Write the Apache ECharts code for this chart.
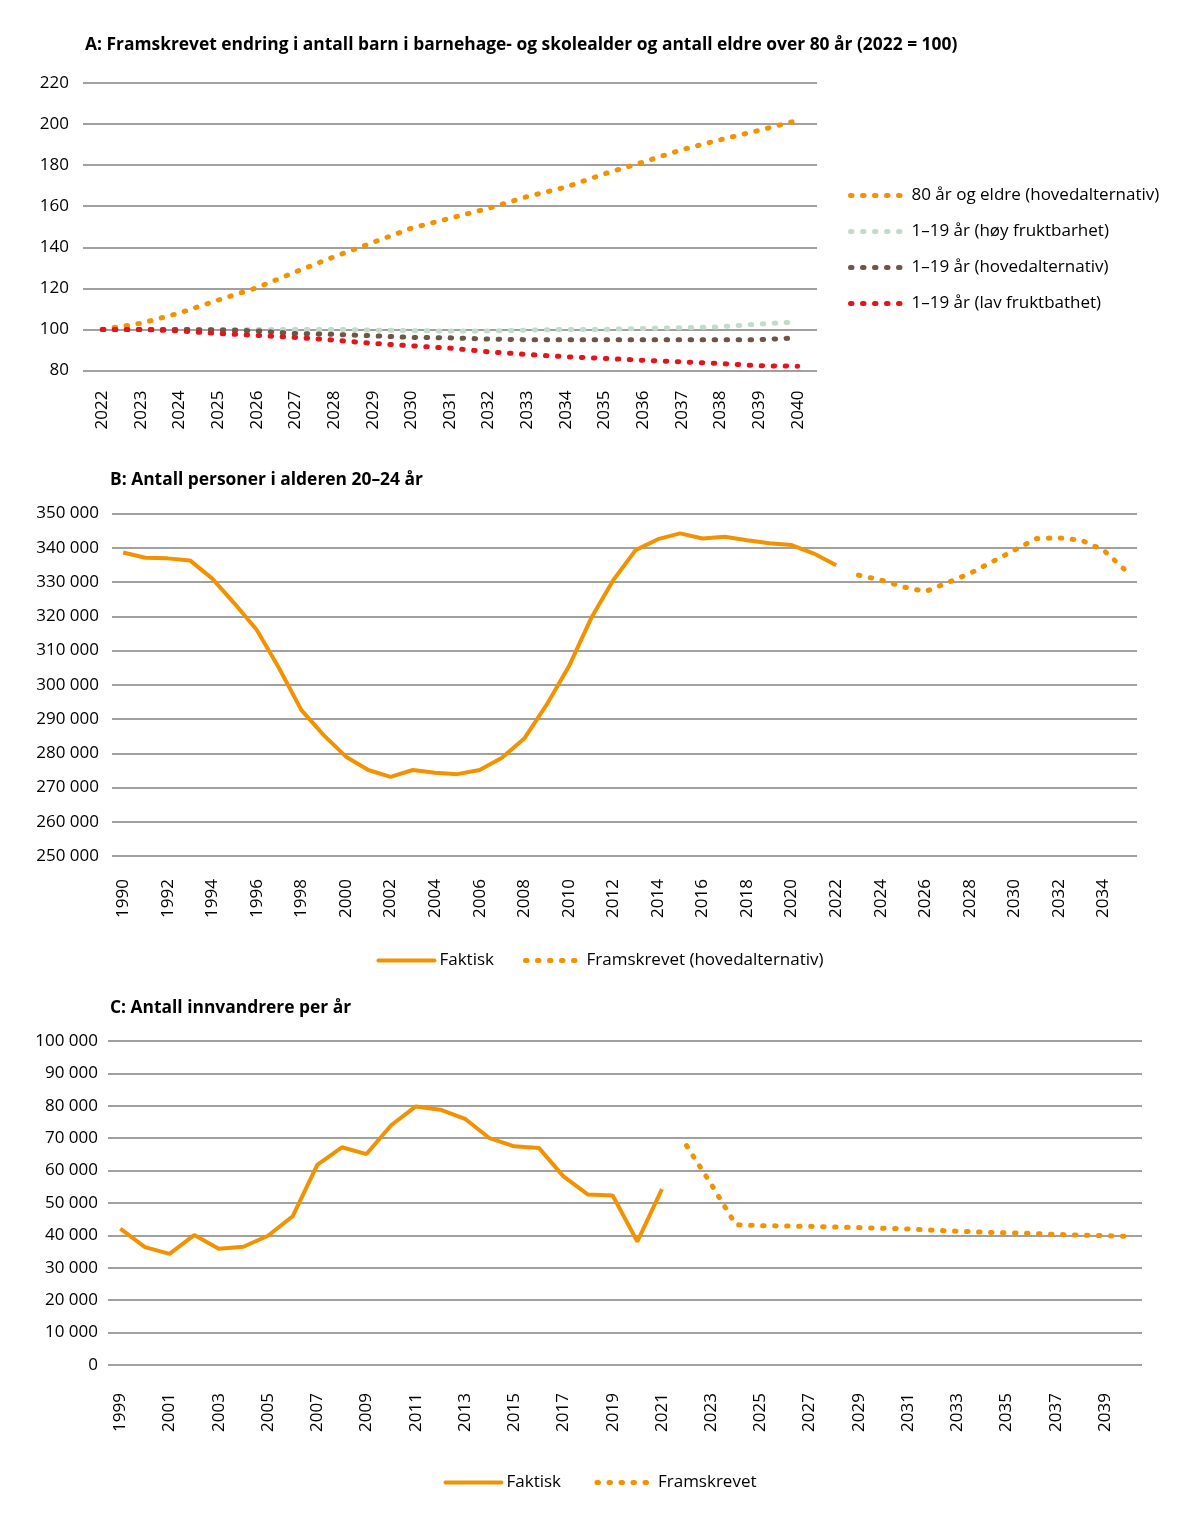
<!DOCTYPE html>
<html>
<head>
<meta charset="utf-8">
<script src="https://cdn.jsdelivr.net/npm/echarts@6/dist/echarts.min.js"></script>
<style>
  html, body { margin: 0; padding: 0; background: #fff; }
  #main { width: 1200px; height: 1526px; }
</style>
</head>
<body>
<div id="main"></div>
<script>
// A: index 2022 = 100
var yearsA = ['2022', '2023', '2024', '2025', '2026', '2027', '2028', '2029', '2030', '2031',
    '2032', '2033', '2034', '2035', '2036', '2037', '2038', '2039', '2040'];
var eldre80 = [100, 103, 108, 114.3, 120.3, 128, 135.4, 142.3, 149.3, 154.1,
    159, 164.7, 169.3, 175.8, 181.5, 187.5, 192.4, 196.9, 201.8];
var barnHoy = [100, 100, 100, 100, 100, 100, 100, 99.7, 99.4, 99.2,
    99.2, 99.7, 100, 100, 100.5, 100.8, 101.3, 102.6, 103.7];
var barnHoved = [100, 100, 100, 99.8, 99.3, 98, 97.6, 96.9, 96.1, 95.9,
    95.3, 95, 95, 95, 95, 95, 95, 95, 95.9];
var barnLav = [100, 100, 99.3, 98, 97.1, 96.1, 94.8, 93.2, 92, 90.9,
    89.1, 87.8, 86.7, 85.9, 85, 84.2, 83.4, 82.3, 82.1];

// B: personer 20-24 aar
var yearsB = ['1990', '1991', '1992', '1993', '1994', '1995', '1996', '1997', '1998', '1999',
    '2000', '2001', '2002', '2003', '2004', '2005', '2006', '2007', '2008', '2009',
    '2010', '2011', '2012', '2013', '2014', '2015', '2016', '2017', '2018', '2019',
    '2020', '2021', '2022', '2023', '2024', '2025', '2026', '2027', '2028', '2029',
    '2030', '2031', '2032', '2033', '2034', '2035'];
var faktiskB = [338600, 337100, 336900, 336300, 331000, 323700, 316000, 304800, 292600, 285300,
    279000, 275100, 273100, 275100, 274300, 273900, 275100, 278700, 284300, 294100,
    305300, 319400, 330600, 339300, 342500, 344200, 342700, 343200, 342200, 341300,
    340800, 338300, 334900];
var framB = [332000, 330600, 328600, 327200, 329800, 332500, 335900, 339300, 342700, 342900,
    342200, 339300, 333300];

// C: innvandrere per aar
var yearsC = ['1999', '2000', '2001', '2002', '2003', '2004', '2005', '2006', '2007', '2008',
    '2009', '2010', '2011', '2012', '2013', '2014', '2015', '2016', '2017', '2018',
    '2019', '2020', '2021', '2022', '2023', '2024', '2025', '2026', '2027', '2028',
    '2029', '2030', '2031', '2032', '2033', '2034', '2035', '2036', '2037', '2038',
    '2039', '2040'];
var faktiskC = [42100, 36400, 34300, 40100, 35900, 36500, 39900, 45900, 61800, 67200,
    65100, 74000, 79800, 78800, 76000, 70000, 67500, 67000, 58200, 52600,
    52300, 38100, 54300];
var framC = [67700, 55800, 43300, 43000, 42900, 42800, 42600, 42400, 42200, 42000,
    41600, 41300, 41000, 40800, 40600, 40300, 40100, 39900, 39700];

var orange = '#f39200';
var dots = [1.5, 10.5];
var dotLine = {width: 5, type: dots, cap: 'round'};
var solidLine = {width: 4, type: 'solid', cap: 'round'};

function pad(n) {
    var a = [];
    for (var i = 0; i < n; i++) a.push(null);
    return a;
}
function thousands(v) {
    return String(v).replace(/\B(?=(\d{3})+(?!\d))/g, ' ');
}
// legend entry: line only, no symbol
function legendItem(name, ls) {
    return {name: name, itemStyle: {opacity: 0}, lineStyle: ls};
}
function xAxisFor(idx, data, every, margin) {
    return {
        type: 'category', gridIndex: idx, data: data, boundaryGap: true,
        axisLine: {show: false}, axisTick: {show: false},
        axisLabel: {rotate: 90, interval: every, margin: margin, color: '#000', fontSize: 17}
    };
}
function yAxisFor(idx, min, max, step, margin, drop) {
    return {
        type: 'value', gridIndex: idx, min: min, max: max, interval: step,
        axisLine: {show: false}, axisTick: {show: false},
        axisLabel: {color: '#000', fontSize: 17, margin: margin, formatter: thousands,
            padding: [drop, 0, 0, 0]},
        splitLine: {lineStyle: {color: '#808080', width: 1.5}}
    };
}
function dotted(name, color, x, y, data) {
    return {
        name: name, type: 'line', xAxisIndex: x, yAxisIndex: y, data: data,
        symbol: 'none', silent: true, connectNulls: false,
        lineStyle: {color: color, width: dotLine.width, type: dots, cap: 'round'},
        itemStyle: {color: color}
    };
}
function solid(name, x, y, data) {
    return {
        name: name, type: 'line', xAxisIndex: x, yAxisIndex: y, data: data,
        symbol: 'none', silent: true, connectNulls: false,
        lineStyle: {color: orange, width: 4},
        itemStyle: {color: orange}
    };
}

var myChart = echarts.init(document.getElementById('main'));
var option = {
    animation: false,
    textStyle: {fontFamily: 'Open Sans'},
    title: [
        {text: 'A: Framskrevet endring i antall barn i barnehage- og skolealder og antall eldre over 80 år (2022 = 100)',
            left: 85, top: 37, padding: 0, textStyle: {fontSize: 17.4, fontWeight: 'bold', color: '#000'}},
        {text: 'B: Antall personer i alderen 20–24 år',
            left: 110, top: 472, padding: 0, textStyle: {fontSize: 17.4, fontWeight: 'bold', color: '#000'}},
        {text: 'C: Antall innvandrere per år',
            left: 110, top: 1000, padding: 0, textStyle: {fontSize: 17.4, fontWeight: 'bold', color: '#000'}}
    ],
    legend: [
        {
            orient: 'vertical', left: 843, top: 182, itemWidth: 56, itemHeight: 14, itemGap: 19,
            textStyle: {fontSize: 17, color: '#000'},
            data: [legendItem('80 år og eldre (hovedalternativ)', dotLine),
                legendItem('1–19 år (høy fruktbarhet)', dotLine),
                legendItem('1–19 år (hovedalternativ)', dotLine),
                legendItem('1–19 år (lav fruktbathet)', dotLine)]
        },
        {
            left: 'center', top: 947, itemWidth: 56, itemHeight: 14, itemGap: 29,
            textStyle: {fontSize: 17, color: '#000'},
            data: [legendItem('Faktisk', solidLine), legendItem('Framskrevet (hovedalternativ)', dotLine)]
        },
        {
            left: 'center', top: 1469, itemWidth: 56, itemHeight: 14, itemGap: 29,
            textStyle: {fontSize: 17, color: '#000'},
            data: [legendItem('Faktisk ', solidLine), legendItem('Framskrevet', dotLine)]
        }
    ],
    grid: [
        {left: 83, top: 83, width: 734, height: 287.5},
        {left: 112, top: 513.5, width: 1025, height: 342.5},
        {left: 108, top: 1041, width: 1034, height: 324}
    ],
    xAxis: [
        xAxisFor(0, yearsA, 0, 20),
        xAxisFor(1, yearsB, 1, 23),
        xAxisFor(2, yearsC, 1, 28)
    ],
    yAxis: [
        yAxisFor(0, 80, 220, 20, 14, 0),
        yAxisFor(1, 250000, 350000, 10000, 13, 9),
        yAxisFor(2, 0, 100000, 10000, 10, 9)
    ],
    series: [
        dotted('80 år og eldre (hovedalternativ)', orange, 0, 0, eldre80),
        dotted('1–19 år (høy fruktbarhet)', '#c2dccc', 0, 0, barnHoy),
        dotted('1–19 år (hovedalternativ)', '#6f5545', 0, 0, barnHoved),
        dotted('1–19 år (lav fruktbathet)', '#e3141c', 0, 0, barnLav),
        solid('Faktisk', 1, 1, faktiskB.concat(pad(framB.length))),
        dotted('Framskrevet (hovedalternativ)', orange, 1, 1, pad(faktiskB.length).concat(framB)),
        solid('Faktisk ', 2, 2, faktiskC.concat(pad(framC.length))),
        dotted('Framskrevet', orange, 2, 2, pad(faktiskC.length).concat(framC))
    ]
};
myChart.setOption(option);
</script>
</body>
</html>
